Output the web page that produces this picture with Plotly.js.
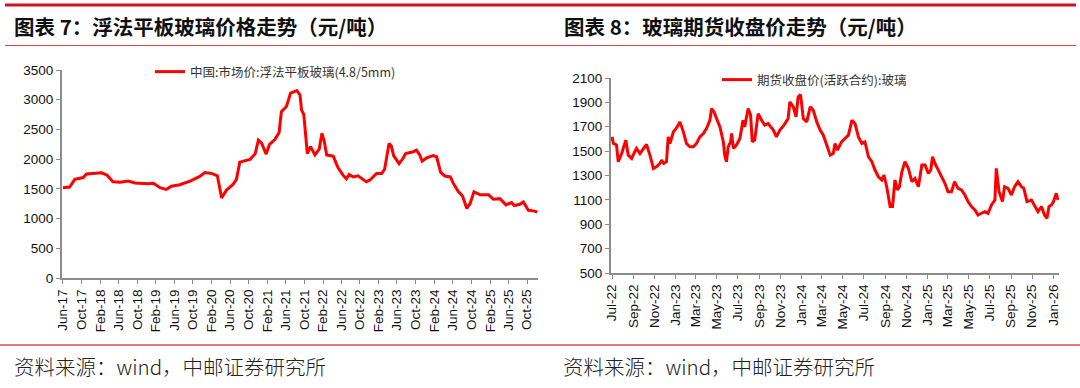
<!DOCTYPE html>
<html>
<head>
<meta charset="utf-8">
<script src="https://cdn.plot.ly/plotly-3.0.1.min.js"></script>
<style>
html,body{margin:0;padding:0;background:#fff;}
#chart{width:1080px;height:388px;}
</style>
</head>
<body>
<div id="chart"></div>
<script>
// ---------- Chart 7: float glass market price (yuan/ton) ----------
const leftTitle = "图表 7：浮法平板玻璃价格走势（元/吨）";
const leftSeriesName = "中国:市场价:浮法平板玻璃(4.8/5mm)";
const leftDates = [
  "2017-06-01","2017-07-15","2017-08-18","2017-10-12","2017-11-03","2017-12-28","2018-02-10","2018-03-18",
  "2018-04-25","2018-06-10","2018-08-03","2018-09-16","2018-11-01","2018-12-13","2019-01-16","2019-02-28",
  "2019-04-10","2019-05-13","2019-07-07","2019-09-13","2019-11-16","2019-12-19","2020-02-01","2020-03-10",
  "2020-04-07","2020-05-09","2020-06-21","2020-07-13","2020-08-04","2020-10-10","2020-11-13","2020-12-04",
  "2020-12-25","2021-01-24","2021-02-15","2021-03-22","2021-04-19","2021-05-04","2021-06-06","2021-07-03",
  "2021-08-13","2021-09-03","2021-09-13","2021-09-28","2021-10-21","2021-11-11","2021-12-10","2022-01-07",
  "2022-01-25","2022-02-09","2022-02-25","2022-04-09","2022-05-10","2022-06-12","2022-07-04","2022-07-22",
  "2022-08-18","2022-09-18","2022-10-21","2022-11-12","2022-12-06","2023-01-18","2023-02-21","2023-03-12",
  "2023-04-10","2023-04-25","2023-05-10","2023-06-15","2023-07-10","2023-07-28","2023-09-16","2023-10-07",
  "2023-10-28","2023-11-13","2023-12-12","2024-01-25","2024-02-16","2024-03-13","2024-04-10","2024-05-16",
  "2024-06-03","2024-07-06","2024-08-04","2024-09-01","2024-09-22","2024-10-18","2024-11-28","2025-01-22",
  "2025-02-22","2025-04-06","2025-05-16","2025-06-22","2025-07-09","2025-08-15","2025-09-07","2025-10-10",
  "2025-11-12","2025-12-07"
];
const leftValues = [
  1520,1530,1660,1690,1750,1760,1770,1730,
  1620,1610,1630,1600,1590,1585,1595,1520,
  1490,1545,1570,1630,1710,1775,1760,1720,
  1345,1480,1575,1660,1950,1995,2090,2320,
  2270,2085,2250,2330,2450,2800,2885,3110,
  3155,3080,2830,2750,2095,2210,2070,2170,
  2435,2300,2070,2050,1860,1730,1670,1740,
  1700,1720,1660,1620,1650,1760,1760,1830,
  2265,2220,2060,1925,2010,2095,2125,2150,
  2070,1965,2020,2060,2040,1780,1715,1700,
  1600,1460,1380,1170,1250,1450,1400,1400,
  1325,1335,1230,1270,1220,1240,1280,1140,
  1130,1110
];

// ---------- Chart 8: glass futures close (active contract) ----------
const rightTitle = "图表 8：玻璃期货收盘价走势（元/吨）";
const rightSeriesName = "期货收盘价(活跃合约):玻璃";
const rightDates = [
  "2022-07-01","2022-07-05","2022-07-14","2022-07-19","2022-07-29","2022-08-07","2022-08-10","2022-08-17",
  "2022-08-27","2022-09-05","2022-09-10","2022-09-20","2022-10-05","2022-10-09","2022-10-19","2022-10-29",
  "2022-11-07","2022-11-17","2022-11-22","2022-11-28","2022-12-06","2022-12-11","2022-12-16","2022-12-26",
  "2023-01-04","2023-01-14","2023-01-24","2023-02-02","2023-02-12","2023-02-22","2023-03-03","2023-03-13",
  "2023-03-23","2023-04-01","2023-04-11","2023-04-16","2023-04-23","2023-04-30","2023-05-10","2023-05-20",
  "2023-05-24","2023-05-29","2023-06-03","2023-06-10","2023-06-13","2023-06-18","2023-06-27","2023-07-07",
  "2023-07-16","2023-07-21","2023-07-31","2023-08-07","2023-08-12","2023-08-19","2023-08-29","2023-09-08",
  "2023-09-17","2023-09-27","2023-10-12","2023-10-21","2023-10-31","2023-11-12","2023-11-24","2023-11-29",
  "2023-12-09","2023-12-17","2023-12-23","2023-12-30","2024-01-07","2024-01-17","2024-01-27","2024-02-05",
  "2024-02-15","2024-02-25","2024-03-05","2024-03-15","2024-03-25","2024-04-03","2024-04-08","2024-04-15",
  "2024-04-27","2024-05-07","2024-05-17","2024-05-27","2024-06-05","2024-06-15","2024-06-25","2024-07-04",
  "2024-07-14","2024-07-24","2024-08-02","2024-08-12","2024-08-22","2024-08-28","2024-09-05","2024-09-15",
  "2024-09-22","2024-09-29","2024-10-06","2024-10-12","2024-10-19","2024-10-28","2024-11-07","2024-11-17",
  "2024-11-26","2024-12-06","2024-12-16","2024-12-25","2025-01-04","2025-01-11","2025-01-16","2025-01-23",
  "2025-02-02","2025-02-11","2025-02-21","2025-03-02","2025-03-12","2025-03-21","2025-03-31","2025-04-10",
  "2025-04-20","2025-04-29","2025-05-09","2025-05-19","2025-05-28","2025-06-07","2025-06-17","2025-06-26",
  "2025-07-06","2025-07-16","2025-07-20","2025-07-28","2025-08-07","2025-08-13","2025-08-23","2025-09-02",
  "2025-09-11","2025-09-21","2025-10-01","2025-10-08","2025-10-17","2025-10-30","2025-11-08","2025-11-18",
  "2025-11-28","2025-12-07","2025-12-14","2025-12-20","2025-12-27","2026-01-02","2026-01-10","2026-01-15"
];
const rightValues = [
  1617,1563,1550,1413,1480,1576,1590,1467,
  1440,1495,1522,1480,1535,1555,1467,1358,
  1372,1399,1426,1399,1413,1617,1563,1658,
  1690,1740,1658,1563,1535,1535,1563,1617,
  1645,1685,1753,1849,1822,1767,1699,1576,
  1467,1413,1535,1576,1645,1522,1550,1604,
  1753,1699,1849,1795,1576,1590,1808,1753,
  1713,1726,1672,1617,1672,1713,1767,1904,
  1863,1781,1945,1964,1767,1740,1863,1835,
  1740,1672,1631,1550,1467,1480,1563,1508,
  1576,1604,1631,1753,1726,1617,1563,1576,
  1454,1413,1345,1290,1263,1304,1208,1045,
  1045,1263,1181,1208,1331,1413,1358,1249,
  1276,1208,1386,1386,1317,1345,1454,1399,
  1345,1290,1235,1167,1167,1249,1194,1181,
  1140,1086,1045,1017,976,990,1004,990,
  1058,1099,1358,1167,1086,1208,1194,1140,
  1208,1249,1208,1194,1086,1099,1058,1004,
  1045,976,949,1045,1058,1086,1154,1099
];
const sourceText = "资料来源：wind，中邮证券研究所";

// ---------- layout helpers (pixel -> paper) ----------
const W = 1080, H = 388;
const px = x => x / W;
const py = y => 1 - y / H;

const tickFont = {family: "Liberation Sans, Arial, sans-serif", size: 13.5, color: "#111"};
const axisCommon = {
  showgrid: false, zeroline: false, showline: true, linecolor: "#8c8c8c", linewidth: 2,
  ticks: "outside", ticklen: 4, tickwidth: 1, tickcolor: "#8c8c8c", tickfont: tickFont, fixedrange: true
};

const traces = [
  {x: leftDates, y: leftValues, name: leftSeriesName, type: "scatter", mode: "lines",
   line: {color: "#ff0000", width: 3}, xaxis: "x", yaxis: "y", legend: "legend"},
  {x: rightDates, y: rightValues, name: rightSeriesName, type: "scatter", mode: "lines",
   line: {color: "#ff0000", width: 3}, xaxis: "x2", yaxis: "y2", legend: "legend2"}
];

const legendFont = {family: "Noto Sans CJK SC, sans-serif", size: 12.5, color: "#333"};
const titleFont = {family: "Noto Sans CJK SC, sans-serif", size: 20.5, color: "#111"};
const sourceFont = {family: "Noto Sans CJK SC, sans-serif", size: 20.5, color: "#222", weight: 300};

const layout = {
  width: W, height: H,
  margin: {l: 0, r: 0, t: 0, b: 0, pad: 0},
  paper_bgcolor: "#fff", plot_bgcolor: "#fff",
  showlegend: true,
  xaxis: Object.assign({}, axisCommon, {
    domain: [px(62), px(538)], type: "date",
    range: ["2017-05-26", "2025-12-12"],
    tick0: "2017-06-01", dtick: "M4", tickformat: "%b-%y", tickangle: -90, anchor: "y"
  }),
  yaxis: Object.assign({}, axisCommon, {
    domain: [py(278), py(70)], range: [0, 3500], tick0: 0, dtick: 500, anchor: "x"
  }),
  xaxis2: Object.assign({}, axisCommon, {
    domain: [px(611), px(1059)], type: "date",
    range: ["2022-06-28", "2026-01-18"],
    tick0: "2022-07-01", dtick: "M2", tickformat: "%b-%y", tickangle: -90, anchor: "y2"
  }),
  yaxis2: Object.assign({}, axisCommon, {
    domain: [py(273), py(78)], range: [500, 2100], tick0: 500, dtick: 200, anchor: "x2"
  }),
  legend: {x: px(150), y: py(72), xanchor: "left", yanchor: "middle",
           bgcolor: "rgba(0,0,0,0)", borderwidth: 0, font: legendFont, itemwidth: 30},
  legend2: {x: px(717), y: py(80), xanchor: "left", yanchor: "middle",
            bgcolor: "rgba(0,0,0,0)", borderwidth: 0, font: legendFont, itemwidth: 30},
  shapes: [
    {type: "line", xref: "paper", yref: "paper", x0: px(5), x1: px(1076), y0: py(5), y1: py(5),
     line: {color: "#d2121c", width: 3}},
    {type: "line", xref: "paper", yref: "paper", x0: px(5), x1: px(1076), y0: py(45.5), y1: py(45.5),
     line: {color: "#e0474c", width: 1.2}},
    {type: "line", xref: "paper", yref: "paper", x0: px(0), x1: px(1080), y0: py(345), y1: py(345),
     line: {color: "#e07a7c", width: 2}}
  ],
  annotations: [
    {text: "<b>" + leftTitle + "</b>", xref: "paper", yref: "paper", x: px(12), y: py(26),
     xanchor: "left", yanchor: "middle", showarrow: false, font: titleFont},
    {text: "<b>" + rightTitle + "</b>", xref: "paper", yref: "paper", x: px(562), y: py(26),
     xanchor: "left", yanchor: "middle", showarrow: false, font: titleFont},
    {text: sourceText, xref: "paper", yref: "paper", x: px(12), y: py(366),
     xanchor: "left", yanchor: "middle", showarrow: false, font: sourceFont},
    {text: sourceText, xref: "paper", yref: "paper", x: px(561), y: py(366),
     xanchor: "left", yanchor: "middle", showarrow: false, font: sourceFont}
  ]
};

Plotly.newPlot("chart", traces, layout, {displayModeBar: false, staticPlot: true});
</script>
</body>
</html>
